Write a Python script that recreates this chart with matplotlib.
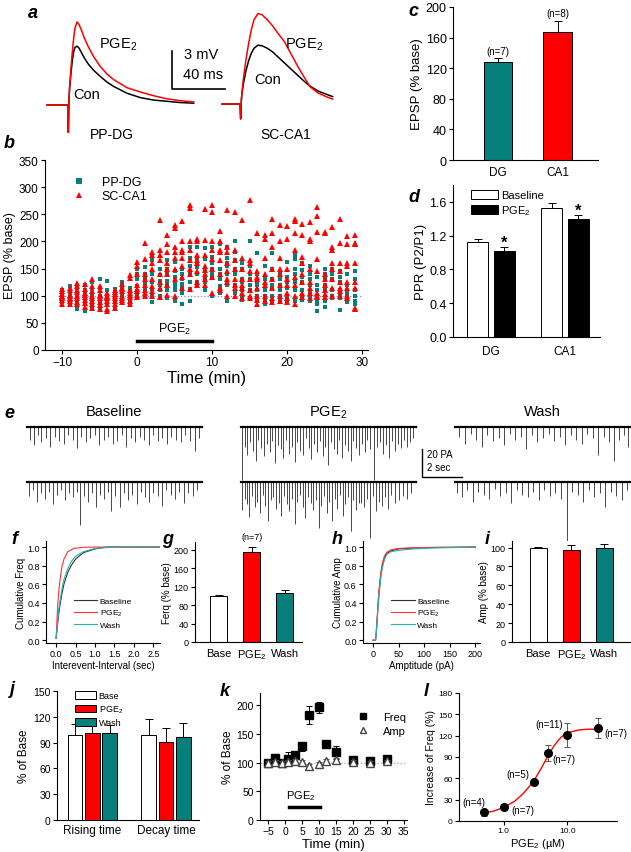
import numpy as np
import matplotlib
matplotlib.use("Agg")
import matplotlib.pyplot as plt
from matplotlib.lines import Line2D
from matplotlib.patches import Patch

plt.rcParams['font.family'] = ['Liberation Sans', 'DejaVu Sans']
plt.rcParams['mathtext.default'] = 'regular'
plt.rcParams['axes.linewidth'] = 0.8

TEAL = '#07807b'
RED = '#ff0000'

# ---------------- data ----------------
# a: EPSP traces, time (ms) / mV
a_dg_t = [0, 15.5, 16, 16.5, 17, 18, 19, 20, 21, 22.5, 24, 26, 28, 31, 35, 40, 45, 50, 60, 70, 80, 90, 100, 110]
a_dg_con = [0, 0, -2.2, 0.5, 1.4, 2.6, 3.6, 4.3, 4.65, 4.75, 4.6, 4.2, 3.8, 3.3, 2.8, 2.3, 1.85, 1.5, 0.95, 0.6, 0.4, 0.3, 0.2, 0.15]
a_dg_pge = [0, 0, -2.2, 0.5, 1.5, 3.0, 4.3, 5.4, 6.2, 6.7, 6.5, 6.0, 5.4, 4.7, 3.9, 3.1, 2.5, 2.05, 1.4, 1.05, 0.75, 0.5, 0.35, 0.25]
a_ca1_t = [0, 13.5, 14, 14.5, 15, 16, 18, 20, 22, 24, 27, 30, 34, 38, 42, 47, 52, 57, 62, 66, 72, 78, 83]
a_ca1_con = [0, 0, -1.2, 0.3, 0.9, 1.6, 2.7, 3.5, 4.1, 4.5, 4.75, 4.7, 4.5, 4.2, 3.8, 3.3, 2.8, 2.3, 1.8, 1.45, 1.05, 0.8, 0.6]
a_ca1_pge = [0, 0, -1.2, 0.3, 1.0, 2.0, 3.6, 4.9, 6.0, 6.8, 7.3, 7.2, 6.8, 6.3, 5.7, 5.0, 4.0, 3.0, 2.1, 1.4, 0.9, 0.6, 0.4]

# b: EPSP (% base) per minute, one row per time point
b_time = list(range(-10, 30))
dg_rows = [
    [110, 104, 100, 96, 92, 88, 106],
    [118, 108, 100, 95, 88, 85, 103],
    [115, 105, 98, 90, 84, 75, 102],
    [120, 110, 100, 92, 88, 72, 106],
    [125, 112, 98, 90, 85, 80, 104],
    [130, 115, 100, 92, 85, 78, 96],
    [128, 110, 100, 94, 88, 82, 98],
    [112, 105, 100, 95, 88, 80, 102],
    [125, 118, 105, 100, 95, 90, 110],
    [115, 110, 100, 92, 85, 96, 105],
    [150, 130, 118, 108, 102, 98, 140],
    [152, 140, 125, 110, 100, 120, 132],
    [172, 165, 140, 125, 112, 88, 100],
    [150, 138, 128, 120, 100, 95, 110],
    [165, 150, 140, 128, 110, 95, 120],
    [162, 145, 135, 125, 110, 90, 118],
    [150, 140, 130, 122, 105, 84, 115],
    [190, 170, 155, 125, 112, 90, 140],
    [190, 170, 152, 140, 125, 120, 160],
    [188, 168, 150, 130, 115, 110, 125],
    [190, 172, 160, 150, 133, 100, 140],
    [195, 150, 130, 118, 110, 105, 140],
    [190, 170, 155, 140, 120, 90, 160],
    [200, 180, 165, 150, 120, 105, 140],
    [160, 150, 125, 110, 100, 92, 130],
    [200, 155, 140, 120, 110, 95, 130],
    [178, 140, 125, 110, 100, 90, 120],
    [155, 130, 115, 100, 92, 85, 110],
    [178, 150, 130, 112, 100, 90, 120],
    [140, 130, 110, 100, 95, 88, 120],
    [163, 135, 115, 100, 95, 90, 125],
    [175, 168, 150, 140, 110, 90, 125],
    [160, 148, 135, 110, 100, 92, 125],
    [155, 140, 120, 105, 95, 90, 130],
    [135, 120, 100, 90, 85, 72, 110],
    [150, 140, 120, 110, 90, 80, 130],
    [182, 150, 130, 110, 100, 95, 140],
    [145, 135, 125, 100, 95, 73, 110],
    [140, 120, 110, 98, 92, 88, 105],
    [145, 130, 110, 100, 90, 85, 100],
]
ca1_rows = [
    [112, 108, 100, 96, 92, 85, 104, 98],
    [115, 110, 102, 94, 90, 84, 100, 96],
    [123, 118, 110, 100, 95, 88, 84, 106],
    [121, 113, 105, 98, 92, 86, 80, 102],
    [130, 118, 100, 95, 90, 84, 78, 108],
    [118, 110, 102, 95, 88, 82, 76, 100],
    [105, 100, 95, 90, 85, 76, 72, 98],
    [110, 106, 100, 96, 90, 84, 78, 104],
    [122, 115, 108, 100, 96, 92, 88, 112],
    [138, 132, 110, 105, 98, 90, 84, 102],
    [162, 155, 140, 120, 108, 102, 98, 112],
    [198, 168, 140, 120, 110, 105, 100, 130],
    [180, 175, 150, 130, 118, 108, 100, 160],
    [240, 185, 165, 140, 125, 115, 98, 175],
    [212, 195, 180, 160, 140, 120, 102, 150],
    [230, 225, 190, 170, 150, 130, 100, 180],
    [238, 200, 185, 170, 155, 135, 115, 180],
    [268, 262, 200, 185, 165, 140, 112, 150],
    [205, 200, 175, 160, 145, 125, 120, 165],
    [260, 202, 175, 155, 148, 130, 120, 140],
    [268, 255, 200, 185, 168, 150, 135, 105],
    [220, 200, 185, 165, 140, 115, 110, 180],
    [258, 190, 180, 160, 145, 125, 100, 130],
    [255, 185, 165, 150, 130, 115, 100, 120],
    [240, 170, 150, 130, 120, 105, 95, 115],
    [276, 165, 145, 130, 110, 100, 95, 160],
    [215, 145, 135, 115, 100, 92, 85, 130],
    [212, 205, 170, 125, 120, 100, 90, 140],
    [242, 215, 190, 150, 115, 95, 88, 130],
    [230, 200, 170, 150, 120, 100, 90, 140],
    [228, 205, 150, 130, 105, 95, 88, 120],
    [241, 237, 215, 185, 135, 120, 85, 100],
    [232, 212, 172, 160, 140, 125, 98, 105],
    [235, 205, 200, 150, 125, 105, 95, 115],
    [264, 247, 218, 168, 145, 105, 100, 98],
    [217, 215, 140, 130, 120, 110, 98, 104],
    [227, 190, 185, 160, 130, 115, 100, 150],
    [242, 198, 160, 145, 125, 115, 108, 100],
    [210, 195, 160, 155, 125, 115, 100, 95],
    [212, 198, 195, 160, 125, 115, 78, 75],
]

# c
c_labels = ['DG', 'CA1']
c_vals = [128, 167]
c_err = [5, 15]
c_n = ['(n=7)', '(n=8)']

# d
d_labels = ['DG', 'CA1']
d_base = [1.12, 1.53]
d_base_err = [0.035, 0.06]
d_pge = [1.02, 1.40]
d_pge_err = [0.04, 0.04]

# e: sEPSC events, time in trace (s) / amplitude (pA)
base_top_t = [0.15, 0.35, 0.55, 0.7, 0.95, 1.15, 1.4, 1.6, 1.85, 2.05, 2.3, 2.5, 2.7, 2.95, 3.15, 3.4, 3.6, 3.85, 4.05, 4.3,
              4.5, 4.75, 4.95, 5.2, 5.4, 5.65, 5.85, 6.1, 6.3, 6.55, 6.75, 7.0, 7.2, 7.45, 7.7, 7.9, 8.15, 8.4, 8.6]
base_top_a = [9, 13, 6, 11, 8, 14, 7, 10, 12, 6, 9, 15, 7, 11, 8, 6, 13, 9, 7, 12,
              10, 6, 14, 8, 11, 7, 9, 13, 6, 10, 8, 12, 7, 9, 11, 6, 10, 17, 8]
base_bot_t = [0.1, 0.3, 0.5, 0.7, 0.9, 1.1, 1.3, 1.5, 1.7, 1.9, 2.1, 2.3, 2.5, 2.65, 2.85, 3.05, 3.25, 3.45, 3.65, 3.85,
              4.05, 4.2, 4.4, 4.65, 4.85, 5.05, 5.25, 5.5, 5.7, 5.9, 6.1, 6.3, 6.55, 6.75, 6.95, 7.2, 7.4, 7.6, 7.85, 8.05, 8.3, 8.5]
base_bot_a = [10, 6, 14, 8, 12, 7, 16, 9, 6, 13, 8, 11, 7, 31, 10, 14, 8, 18, 9, 12,
              7, 21, 10, 18, 8, 13, 9, 16, 7, 11, 14, 8, 10, 17, 6, 9, 12, 7, 15, 8, 10, 6]
pge_top_t = [0.05, 0.2, 0.3, 0.45, 0.6, 0.75, 0.85, 1.0, 1.15, 1.3, 1.45, 1.55, 1.7, 1.85, 2.0, 2.1, 2.25, 2.4, 2.55, 2.7,
             2.8, 2.95, 3.1, 3.25, 3.4, 3.5, 3.65, 3.8, 3.95, 4.1, 4.2, 4.35, 4.5, 4.65, 4.8, 4.9, 5.05, 5.2, 5.35, 5.5,
             5.6, 5.75, 5.9, 6.05, 6.2, 6.3, 6.45, 6.65, 6.8, 6.95, 7.1, 7.25, 7.4, 7.55, 7.7, 7.85, 8.0, 8.15, 8.3, 8.45, 8.6]
pge_top_a = [38, 14, 20, 11, 17, 24, 9, 15, 21, 12, 18, 10, 26, 13, 16, 22, 9, 19, 14, 25,
             11, 17, 20, 8, 15, 23, 12, 18, 10, 21, 14, 27, 11, 16, 19, 9, 22, 13, 17, 24,
             10, 15, 20, 12, 18, 9, 16, 38, 14, 11, 19, 13, 22, 10, 17, 12, 15, 9, 14, 11, 8]
pge_bot_t = [0.05, 0.18, 0.3, 0.42, 0.55, 0.7, 0.82, 0.95, 1.1, 1.22, 1.35, 1.5, 1.62, 1.75, 1.9, 2.02, 2.15, 2.3, 2.42, 2.55,
             2.7, 2.82, 2.95, 3.1, 3.22, 3.35, 3.5, 3.62, 3.75, 3.9, 4.02, 4.15, 4.3, 4.42, 4.55, 4.7, 4.82, 4.95, 5.1, 5.22,
             5.35, 5.5, 5.62, 5.75, 5.9, 6.02, 6.15, 6.3, 6.45, 6.6, 6.75, 6.9, 7.05, 7.2, 7.35, 7.5, 7.7, 7.9, 8.1, 8.3, 8.5]
pge_bot_a = [20, 12, 16, 25, 10, 18, 14, 22, 9, 17, 28, 13, 11, 19, 15, 24, 10, 16, 21, 12,
             30, 14, 9, 18, 26, 11, 15, 20, 13, 33, 17, 10, 22, 14, 28, 12, 19, 9, 24, 16,
             11, 35, 13, 20, 15, 15, 18, 12, 40, 10, 21, 14, 17, 11, 19, 9, 15, 13, 10, 12, 8]
wash_top_t = [0.2, 0.5, 0.8, 1.05, 1.35, 1.6, 1.9, 2.2, 2.45, 2.75, 3.0, 3.3, 3.55, 3.85, 4.1, 4.4, 4.7, 4.95, 5.25, 5.5,
              5.8, 6.05, 6.35, 6.6, 6.9, 7.15, 7.45, 7.7, 7.95, 8.2, 8.45, 8.65]
wash_top_a = [7, 12, 5, 9, 14, 6, 10, 8, 13, 5, 9, 7, 16, 6, 11, 8, 5, 10, 7, 13,
              6, 9, 12, 5, 8, 20, 7, 11, 24, 9, 6, 14]
wash_bot_t = [0.1, 0.35, 0.6, 0.9, 1.15, 1.45, 1.7, 2.0, 2.25, 2.55, 2.8, 3.1, 3.35, 3.65, 3.9, 4.2, 4.45, 4.75, 5.0, 5.3,
              5.6, 5.85, 6.15, 6.4, 6.7, 6.95, 7.25, 7.5, 7.8, 8.05, 8.35, 8.6]
wash_bot_a = [8, 11, 6, 14, 7, 9, 12, 5, 10, 8, 15, 6, 9, 11, 7, 13, 6, 10, 8, 12,
              54, 7, 9, 14, 6, 11, 8, 18, 7, 10, 13, 6]

# f: cumulative interevent interval
f_base_x = [0, 0.03, 0.06, 0.1, 0.15, 0.2, 0.3, 0.4, 0.5, 0.7, 1.0, 1.3, 2.7]
f_base_y = [0.02, 0.14, 0.26, 0.38, 0.5, 0.6, 0.73, 0.81, 0.87, 0.94, 0.98, 1.0, 1.0]
f_wash_x = [0, 0.03, 0.06, 0.1, 0.15, 0.2, 0.3, 0.4, 0.5, 0.7, 1.0, 1.3, 2.7]
f_wash_y = [0.02, 0.16, 0.3, 0.42, 0.55, 0.65, 0.77, 0.85, 0.9, 0.95, 0.985, 0.995, 1.0]
f_pge_x = [0, 0.02, 0.04, 0.07, 0.1, 0.15, 0.2, 0.3, 0.45, 0.7, 1.0, 2.7]
f_pge_y = [0.02, 0.2, 0.37, 0.53, 0.65, 0.79, 0.87, 0.95, 0.985, 0.997, 1.0, 1.0]

# g
g_labels = ['Base', 'PGE$_2$', 'Wash']
g_vals = [100, 195, 107]
g_err = [2, 12, 6]

# h: cumulative amplitude
h_x = [0, 5, 6, 8, 10, 12, 15, 18, 22, 27, 35, 50, 80, 120, 200]
h_base_y = [0, 0, 0.05, 0.2, 0.38, 0.52, 0.68, 0.79, 0.88, 0.93, 0.96, 0.98, 0.99, 0.995, 1.0]
h_pge_y = [0, 0, 0.06, 0.23, 0.42, 0.56, 0.72, 0.82, 0.9, 0.945, 0.97, 0.985, 0.993, 0.997, 1.0]
h_wash_y = [0, 0, 0.05, 0.2, 0.37, 0.5, 0.66, 0.77, 0.86, 0.92, 0.95, 0.965, 0.98, 0.99, 1.0]

# i
i_vals = [100, 97, 100]
i_err = [1, 6, 4]

# j
j_groups = ['Rising time', 'Decay time']
j_base = [99, 99]
j_base_err = [13, 18]
j_pge = [101, 91]
j_pge_err = [10, 16]
j_wash = [101, 97]
j_wash_err = [10, 16]

# k
k_time = [-5, -3, -1, 1, 3, 5, 7, 10, 12, 15, 20, 25, 30]
k_freq = [100, 108, 100, 106, 113, 128, 183, 196, 133, 118, 104, 102, 106]
k_freq_err = [4, 6, 5, 12, 6, 8, 16, 10, 5, 11, 6, 5, 5]
k_amp = [100, 101, 99, 101, 102, 101, 94, 97, 103, 104, 101, 99, 102]
k_amp_err = [3, 4, 3, 3, 4, 3, 4, 4, 4, 4, 3, 3, 3]

# l: dose response
l_conc = [0.5, 1.0, 3.0, 5.0, 10.0, 30.0]
l_vals = [12, 20, 55, 96, 121, 131]
l_err = [5, 3, 3, 11, 17, 14]
l_n = ['(n=4)', '(n=7)', '(n=5)', '(n=7)', '(n=11)', '(n=7)']
fit_x = [0.5, 0.7, 1.0, 1.5, 2.0, 2.5, 3.0, 3.5, 4.0, 5.0, 6.0, 7.0, 8.0, 10, 15, 20, 30]
fit_y = [11, 14, 19, 28, 38, 48, 57, 67, 76, 92, 104, 112, 118, 124, 128, 129, 129]

# ---------------- drawing ----------------
W, H = 631, 853
fig = plt.figure(figsize=(W / 100, H / 100), dpi=100)


def px_axes(left, top, right, bottom):
    return fig.add_axes([left / W, 1 - bottom / H, (right - left) / W, (bottom - top) / H])


def open_axes(ax, fs):
    ax.spines['top'].set_visible(False)
    ax.spines['right'].set_visible(False)
    ax.tick_params(direction='out', length=3, width=0.8, labelsize=fs, pad=1.5)


def panel_label(x, y, s):
    fig.text(x / W, 1 - y / H, s, fontsize=13, fontweight='bold', style='italic', ha='left', va='center')


def up_bars(ax, x, vals, errs, colors, width):
    ax.bar(x, vals, width, color=colors, edgecolor='black', linewidth=0.7, zorder=2)
    ax.errorbar(x, vals, yerr=[np.zeros(len(errs)), errs], fmt='none', ecolor='black',
                elinewidth=0.7, capsize=3, capthick=0.7, zorder=1)


# a
ax = px_axes(40, 5, 340, 140)
ax.axis('off')
ax.set_xlim(0, 225)
ax.set_ylim(-2.74, 8.15)
ax.plot(np.array(a_dg_t) + 5.25, a_dg_con, color='black', lw=1.1)
ax.plot(np.array(a_dg_t) + 5.25, a_dg_pge, color=RED, lw=1.1)
ax.plot(np.array(a_ca1_t) + 136.5, np.array(a_ca1_con) + 0.08, color='black', lw=1.1)
ax.plot(np.array(a_ca1_t) + 136.5, np.array(a_ca1_pge) + 0.08, color=RED, lw=1.1)
ax.plot([99, 99, 139], [4.35, 1.29, 1.29], color='black', lw=1.2)
ax.text(108, 4.1, '3 mV', fontsize=10.5, va='center')
ax.text(107, 2.5, '40 ms', fontsize=10.5, va='center')
ax.text(44, 4.9, 'PGE$_2$', fontsize=10.5, va='center')
ax.text(25, 0.9, 'Con', fontsize=10.5, va='center')
ax.text(184, 4.9, 'PGE$_2$', fontsize=10.5, va='center')
ax.text(161, 2.1, 'Con', fontsize=10.5, va='center')
ax.text(54, -2.3, 'PP-DG', fontsize=10, ha='center', va='center')
ax.text(184, -2.3, 'SC-CA1', fontsize=10, ha='center', va='center')
panel_label(28, 13, 'a')

# b
ax = px_axes(45, 161, 368, 351)
open_axes(ax, 8.5)
dg = np.array(dg_rows)
ca1 = np.array(ca1_rows)
ax.plot([-10.5, 30], [100, 100], ls=':', color='#8080ff', lw=0.9)
ax.plot(np.repeat(b_time, dg.shape[1]), dg.ravel(), 's', color=TEAL, ms=3.4, mew=0)
ax.plot(np.repeat(b_time, ca1.shape[1]), ca1.ravel(), '^', color=RED, ms=4.2, mew=0)
ax.plot([0, 10], [17, 17], color='black', lw=2.5)
ax.text(5, 40, 'PGE$_2$', fontsize=9, ha='center', va='center')
ax.set_xlim(-12.3, 30.8)
ax.set_ylim(0, 350)
ax.set_xticks([-10, 0, 10, 20, 30])
ax.set_yticks(range(0, 351, 50))
ax.set_xlabel('Time (min)', fontsize=12, labelpad=1)
ax.set_ylabel('EPSP (% base)', fontsize=9, labelpad=2)
ax.legend(handles=[Line2D([], [], marker='s', ls='', color=TEAL, ms=4, mew=0, label='PP-DG'),
                   Line2D([], [], marker='^', ls='', color=RED, ms=5, mew=0, label='SC-CA1')],
          loc='upper left', bbox_to_anchor=(0.04, 0.96), frameon=False, fontsize=9,
          handletextpad=0.8, labelspacing=0.15, borderpad=0.2)
panel_label(4, 143, 'b')

# c
ax = px_axes(453, 8, 598, 161)
open_axes(ax, 9)
up_bars(ax, [1, 2], c_vals, c_err, [TEAL, RED], 0.48)
for xi, v, e, n in zip([1, 2], c_vals, c_err, c_n):
    ax.text(xi, v + e + 10, n, fontsize=7, ha='center', va='center')
ax.set_xlim(0.25, 2.67)
ax.set_ylim(0, 200)
ax.set_yticks(range(0, 201, 40))
ax.set_xticks([1, 2])
ax.set_xticklabels(c_labels, fontsize=8.5)
ax.tick_params(axis='x', length=0, pad=4)
ax.set_ylabel('EPSP (% base)', fontsize=9.5, labelpad=2)
panel_label(408, 12, 'c')

# d
ax = px_axes(453, 186, 600, 338)
open_axes(ax, 9)
xd = np.array([1, 2])
up_bars(ax, xd - 0.18, d_base, d_base_err, 'white', 0.28)
up_bars(ax, xd + 0.18, d_pge, d_pge_err, 'black', 0.28)
for xi, v, e in zip(xd + 0.18, d_pge, d_pge_err):
    ax.text(xi, v + e + 0.06, '*', fontsize=12, ha='center', va='center', fontweight='bold')
ax.set_xlim(0.49, 2.47)
ax.set_ylim(0, 1.8)
ax.set_yticks([0.0, 0.4, 0.8, 1.2, 1.6])
ax.set_yticklabels(['0.0', '0.4', '0.8', '1.2', '1.6'])
ax.set_xticks([1, 2])
ax.set_xticklabels(d_labels, fontsize=8.5)
ax.tick_params(axis='x', length=0, pad=6)
ax.set_ylabel('PPR (P2/P1)', fontsize=9.5, labelpad=2)
ax.legend(handles=[Patch(facecolor='white', edgecolor='black', lw=0.7, label='Baseline'),
                   Patch(facecolor='black', edgecolor='black', lw=0.7, label='PGE$_2$')],
          loc='upper left', bbox_to_anchor=(0.07, 1.02), frameon=False, fontsize=8,
          handlelength=2.4, handleheight=0.9, handletextpad=0.3, labelspacing=0.3, borderpad=0.2)
panel_label(408, 197, 'd')

# e
ax = px_axes(0, 395, 631, 570)
ax.axis('off')
ax.set_xlim(0, 31.55)
ax.set_ylim(0, 125)


def draw_trace(x0, y0, times, amps):
    t = np.array(times) + x0
    ax.vlines(t, y0 - np.array(amps), y0, color='#2a2a2a', lw=0.6)
    ax.plot([x0, x0 + 8.75], [y0, y0], color='black', lw=1.6)


draw_trace(1.35, 101.4, base_top_t, base_top_a)
draw_trace(1.35, 62.1, base_bot_t, base_bot_a)
draw_trace(12.05, 101.4, pge_top_t, pge_top_a)
draw_trace(12.05, 62.1, pge_bot_t, pge_bot_a)
draw_trace(22.75, 101.4, wash_top_t, wash_top_a)
draw_trace(22.75, 62.1, wash_bot_t, wash_bot_a)
ax.plot([21.1, 21.1, 23.1], [85.7, 65.7, 65.7], color='black', lw=1)
ax.text(21.35, 82, '20 PA', fontsize=7, va='center')
ax.text(21.35, 73, '2 sec', fontsize=7, va='center')
ax.text(5.7, 112.5, 'Baseline', fontsize=10.5, ha='center', va='center')
ax.text(16.4, 112.5, 'PGE$_2$', fontsize=10.5, ha='center', va='center')
ax.text(27.1, 112.5, 'Wash', fontsize=10.5, ha='center', va='center')
panel_label(4, 414, 'e')

# f
ax = px_axes(46, 542, 160, 644)
open_axes(ax, 6.5)
ax.plot(f_base_x, f_base_y, color='#333333', lw=0.8, label='Baseline')
ax.plot(f_pge_x, f_pge_y, color='#ff3030', lw=0.8, label='PGE$_2$')
ax.plot(f_wash_x, f_wash_y, color='#22b3b3', lw=0.8, label='Wash')
ax.set_xlim(-0.26, 2.67)
ax.set_ylim(-0.03, 1.065)
ax.set_xticks([0, 0.5, 1.0, 1.5, 2.0, 2.5])
ax.set_xticklabels(['0.0', '0.5', '1.0', '1.5', '2.0', '2.5'])
ax.set_yticks([0, 0.2, 0.4, 0.6, 0.8, 1.0])
ax.set_yticklabels(['0.0', '0.2', '0.4', '0.6', '0.8', '1.0'])
ax.set_xlabel('Interevent-Interval (sec)', fontsize=7, labelpad=1)
ax.set_ylabel('Cumulative Freq', fontsize=7, labelpad=1)
ax.legend(loc='upper left', bbox_to_anchor=(0.2, 0.5), frameon=False, fontsize=6,
          handlelength=2.8, handletextpad=0.3, labelspacing=0.35, borderpad=0.1)
panel_label(11, 540, 'f')

# g
ax = px_axes(195, 543, 302, 643)
open_axes(ax, 6.5)
up_bars(ax, [1, 2, 3], g_vals, g_err, ['white', RED, TEAL], 0.52)
ax.text(2, 230, '(n=7)', fontsize=6.5, ha='center', va='center')
ax.set_xlim(0.29, 3.52)
ax.set_ylim(0, 217)
ax.set_yticks(range(0, 201, 40))
ax.set_xticks([1, 2, 3])
ax.set_xticklabels(g_labels, fontsize=8)
ax.tick_params(axis='x', length=0, pad=4)
ax.set_ylabel('Ferq (% base)', fontsize=7, labelpad=1)
panel_label(162, 540, 'g')

# h
ax = px_axes(363, 542, 480, 644)
open_axes(ax, 6.5)
ax.plot(h_x, h_base_y, color='#333333', lw=0.8, label='Baseline')
ax.plot(h_x, h_pge_y, color='#ff3030', lw=0.8, label='PGE$_2$')
ax.plot(h_x, h_wash_y, color='#22b3b3', lw=0.8, label='Wash')
ax.set_xlim(-19.5, 209)
ax.set_ylim(-0.03, 1.065)
ax.set_xticks(range(0, 201, 50))
ax.set_yticks([0, 0.2, 0.4, 0.6, 0.8, 1.0])
ax.set_yticklabels(['0.0', '0.2', '0.4', '0.6', '0.8', '1.0'])
ax.set_xlabel('Amptitude (pA)', fontsize=7, labelpad=1)
ax.set_ylabel('Cumulative Amp', fontsize=7, labelpad=1)
ax.legend(loc='upper left', bbox_to_anchor=(0.2, 0.5), frameon=False, fontsize=6,
          handlelength=2.8, handletextpad=0.3, labelspacing=0.35, borderpad=0.1)
panel_label(332, 540, 'h')

# i
ax = px_axes(512, 542, 631, 643)
open_axes(ax, 6.5)
up_bars(ax, [1, 2, 3], i_vals, i_err, ['white', RED, TEAL], 0.52)
ax.set_xlim(0.21, 3.8)
ax.set_ylim(0, 107)
ax.set_yticks(range(0, 101, 20))
ax.set_xticks([1, 2, 3])
ax.set_xticklabels(g_labels, fontsize=8)
ax.tick_params(axis='x', length=0, pad=4)
ax.set_ylabel('Amp (% base)', fontsize=7, labelpad=1)
panel_label(485, 540, 'i')

# j
ax = px_axes(57, 692, 199, 821)
open_axes(ax, 7.5)
xj = np.array([1, 2])
up_bars(ax, xj - 0.235, j_base, j_base_err, 'white', 0.2)
up_bars(ax, xj, j_pge, j_pge_err, RED, 0.2)
up_bars(ax, xj + 0.235, j_wash, j_wash_err, TEAL, 0.2)
ax.set_xlim(0.52, 2.45)
ax.set_ylim(0, 150)
ax.set_yticks(range(0, 151, 30))
ax.set_xticks([1, 2])
ax.set_xticklabels(j_groups, fontsize=8.5)
ax.tick_params(axis='x', length=0, pad=3)
ax.set_ylabel('% of Base', fontsize=8.5, labelpad=2)
ax.legend(handles=[Patch(facecolor='white', edgecolor='black', lw=0.7, label='Base'),
                   Patch(facecolor=RED, edgecolor='black', lw=0.7, label='PGE$_2$'),
                   Patch(facecolor=TEAL, edgecolor='black', lw=0.7, label='Wash')],
          loc='upper left', bbox_to_anchor=(0.09, 1.04), frameon=False, fontsize=6.5,
          handlelength=2.3, handleheight=0.9, handletextpad=0.3, labelspacing=0.35, borderpad=0.1)
panel_label(10, 690, 'j')

# k
ax = px_axes(260, 694, 407, 821)
open_axes(ax, 7.5)
ax.plot([-7, 36], [100, 100], ls=':', color='#ff8080', lw=0.9)
ax.errorbar(k_time, k_freq, yerr=k_freq_err, fmt='s', color='black', ms=6, elinewidth=0.7,
            capsize=2.5, capthick=0.7, label='Freq', zorder=3)
ax.errorbar(k_time, k_amp, yerr=k_amp_err, fmt='^', color='#555555', mfc='white', mec='#444444',
            ms=6, elinewidth=0.7, capsize=2.5, capthick=0.7, label='Amp', zorder=4)
ax.plot([1.2, 10.3], [22.6, 22.6], color='black', lw=2.5)
ax.text(4.6, 43, 'PGE$_2$', fontsize=8, ha='center', va='center')
ax.set_xlim(-7.4, 36)
ax.set_ylim(0, 221)
ax.set_xticks(range(-5, 36, 5))
ax.set_yticks(range(0, 201, 50))
ax.set_xlabel('Time (min)', fontsize=9.5, labelpad=1)
ax.set_ylabel('% of Base', fontsize=8.5, labelpad=2)
ax.legend(handles=[Line2D([], [], marker='s', ls='', color='black', ms=5, label='Freq'),
                   Line2D([], [], marker='^', ls='', mfc='white', mec='#444444', ms=5, label='Amp')],
          loc='upper left', bbox_to_anchor=(0.58, 0.9), frameon=False, fontsize=8,
          handletextpad=0.8, labelspacing=0.3, borderpad=0.1)
panel_label(220, 692, 'k')

# l
ax = px_axes(459, 694, 617, 822)
open_axes(ax, 6)
ax.set_xscale('log')
ax.plot(fit_x, fit_y, color=RED, lw=1, zorder=2)
ax.errorbar(l_conc, l_vals, yerr=l_err, fmt='o', color='black', ms=5.5, ecolor='#555555',
            elinewidth=0.7, capsize=2, capthick=0.7, zorder=3)
n_pos = [(0.347, 26.7), (2.0, 15.5), (1.67, 66), (8.96, 87), (5.18, 136), (57.8, 124)]
for (xn, yn), s in zip(n_pos, l_n):
    ax.text(xn, yn, s, fontsize=7, ha='center', va='center')
ax.set_xlim(0.2, 60)
ax.set_ylim(0, 180)
ax.set_xticks([1, 10])
ax.set_xticklabels(['1.0', '10.0'])
ax.minorticks_off()
ax.set_yticks(range(0, 181, 30))
ax.set_xlabel('PGE$_2$ (µM)', fontsize=8, labelpad=1)
ax.set_ylabel('Increase of Freq (%)', fontsize=7.5, labelpad=2)
panel_label(424, 692, 'l')

fig.savefig('out.png', dpi=100)
